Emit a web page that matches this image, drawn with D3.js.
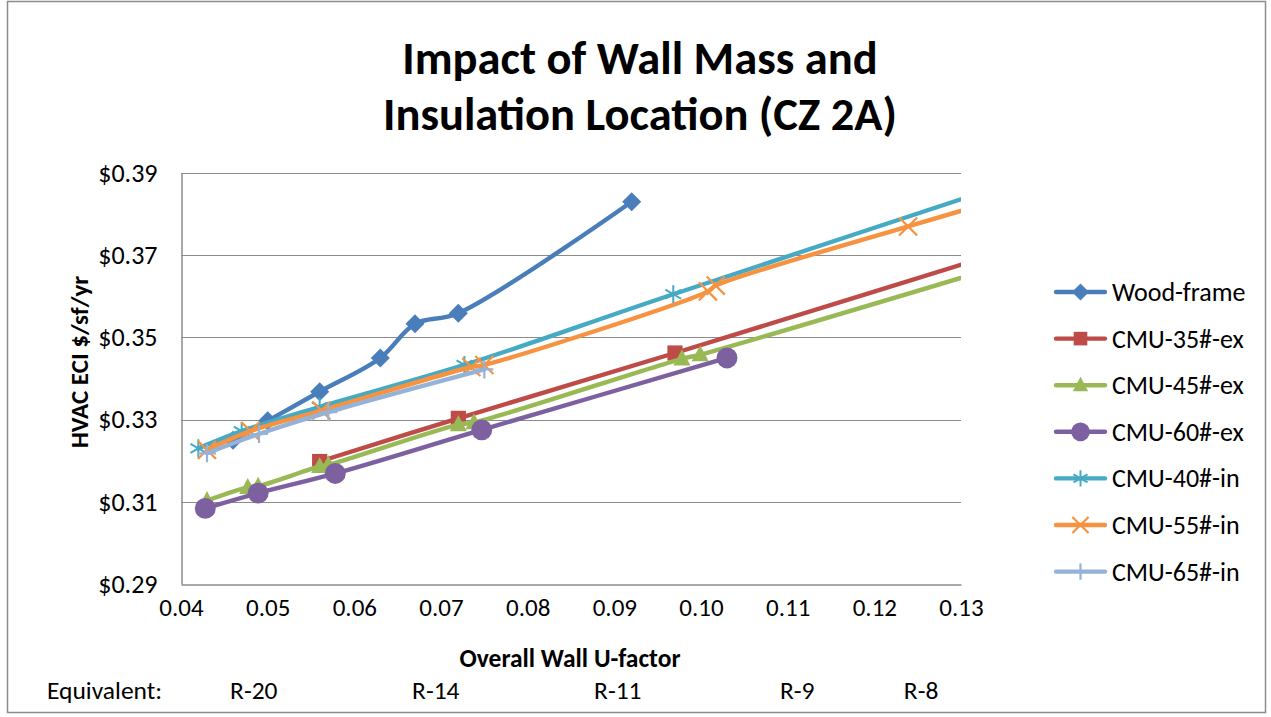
<!DOCTYPE html>
<html><head><meta charset="utf-8">
<script src="https://cdn.jsdelivr.net/npm/d3@7"></script>
<style>
html,body{margin:0;padding:0;background:#fff;}
svg{display:block;font-family:Carlito,Calibri,Lato,sans-serif;}
</style></head>
<body><svg id="c" width="1271" height="717"></svg>
<script>
// ---- data ----
const seriesNames = ["Wood-frame","CMU-35#-ex","CMU-45#-ex","CMU-60#-ex","CMU-40#-in","CMU-55#-in","CMU-65#-in"];
const woodFrame = [[0.046,0.3250],[0.050,0.3297],[0.056,0.3368],[0.063,0.3450],[0.067,0.3533],[0.072,0.3559],[0.092,0.3830]];
const cmu35ex = [[0.056,0.3198],[0.072,0.3303],[0.097,0.3462],[0.145,0.3775]];
const cmu45ex = [[0.043,0.3103],[0.0477,0.3135],[0.0489,0.3138],[0.056,0.3186],[0.057,0.3190],[0.072,0.3288],[0.0738,0.3293],[0.0978,0.3448],[0.0999,0.3458],[0.145,0.3740]];
const cmu60ex = [[0.0428,0.3084],[0.0489,0.3121],[0.0578,0.3169],[0.0747,0.3275],[0.103,0.3450]];
const cmu40in = [[0.042,0.3230],[0.047,0.3272],[0.056,0.3331],[0.0727,0.3433],[0.0968,0.3605],[0.145,0.3940]];
const cmu55in = [[0.043,0.3226],[0.048,0.3272],[0.0562,0.3322],[0.0735,0.3428],[0.075,0.3433],[0.1008,0.3612],[0.1017,0.3626],[0.1239,0.3770],[0.145,0.3900]];
const cmu65in = [[0.043,0.3218],[0.049,0.3265],[0.057,0.3318],[0.075,0.3422]];
const xTicks = [0.04,0.05,0.06,0.07,0.08,0.09,0.10,0.11,0.12,0.13];
const yTicks = [0.29,0.31,0.33,0.35,0.37,0.39];
const rLabels = ["R-20","R-14","R-11","R-9","R-8"];
const rAnchorU = [0.0484,0.0694,0.0904,0.1111,0.1254];
const titleLines = ["Impact of Wall Mass and","Insulation Location (CZ 2A)"];
const colors = ["#4A7EBB","#BE4B48","#98B954","#7D60A0","#46AAC5","#F69240","#95B3D7"];
const markers = ["diamond","square","triangle","circle","asterisk","x","plus"];
const allSeries = [woodFrame,cmu35ex,cmu45ex,cmu60ex,cmu40in,cmu55in,cmu65in];

// ---- layout ----
const svg = d3.select("#c");
const P = {l:181, r:961, t:173, b:584};
const x = d3.scaleLinear().domain([0.04,0.13]).range([P.l,P.r]);
const y = d3.scaleLinear().domain([0.29,0.39]).range([P.b,P.t]);
const FONT = "Carlito,Calibri,Lato,sans-serif";

// outer border
svg.append("rect").attr("x",7.5).attr("y",1.5).attr("width",1258).attr("height",711)
  .attr("fill","none").attr("stroke","#8c8c8c").attr("stroke-width",1.5);

// title
svg.append("g").selectAll("text").data(titleLines).join("text")
  .attr("x",640).attr("y",(d,i)=>74+i*56).attr("text-anchor","middle")
  .attr("font-weight","bold").attr("font-size",46.5).attr("fill","#000").text(d=>d);

// gridlines
svg.append("g").selectAll("line").data(yTicks.slice(1)).join("line")
  .attr("x1",P.l).attr("x2",P.r).attr("y1",d=>Math.round(y(d))+0.5).attr("y2",d=>Math.round(y(d))+0.5)
  .attr("stroke","#8c8c8c").attr("stroke-width",1.2);

// axes
const yAxis = d3.axisLeft(y).tickValues(yTicks).tickFormat(d=>"$"+d.toFixed(2)).tickSize(0).tickPadding(24);
const gy = svg.append("g").attr("transform",`translate(${P.l+0.5},0)`).call(yAxis);
gy.select(".domain").attr("stroke","#8c8c8c").attr("stroke-width",1.5);
gy.selectAll("text").attr("font-size",26).attr("fill","#000").attr("font-family",FONT);

const xAxis = d3.axisBottom(x).tickValues(xTicks).tickFormat(d3.format(".2f")).tickSize(0).tickPadding(14);
const gx = svg.append("g").attr("transform",`translate(0,${P.b+0.5})`).call(xAxis);
gx.select(".domain").attr("stroke","#8c8c8c").attr("stroke-width",1.5);
gx.selectAll("text").attr("font-size",25).attr("fill","#000").attr("font-family",FONT);

// axis titles
svg.append("text").attr("x",570).attr("y",667).attr("text-anchor","middle")
  .attr("font-weight","bold").attr("font-size",25.5).text("Overall Wall U-factor");
svg.append("text").attr("transform","translate(88,362) rotate(-90)").attr("text-anchor","middle")
  .attr("font-weight","bold").attr("font-size",25).text("HVAC ECI $/sf/yr");

// equivalent labels
svg.append("text").attr("x",47).attr("y",699).attr("font-size",25.5).text("Equivalent:");
svg.append("g").selectAll("text").data(rLabels).join("text")
  .attr("x",(d,i)=>x(rAnchorU[i])).attr("y",699).attr("text-anchor","middle")
  .attr("font-size",25.5).text(d=>d);

// clip
svg.append("clipPath").attr("id","clip").append("rect")
  .attr("x",P.l-15).attr("y",P.t-15).attr("width",P.r-P.l+15).attr("height",P.b-P.t+30);

function drawMarker(g, type, color, s){
  if(type==="diamond"){
    g.append("path").attr("d",`M0,${-s}L${s},0L0,${s}L${-s},0Z`).attr("fill",color);
  } else if(type==="square"){
    g.append("rect").attr("x",-s*0.8).attr("y",-s*0.8).attr("width",s*1.6).attr("height",s*1.6).attr("fill",color);
  } else if(type==="triangle"){
    g.append("path").attr("d",`M0,${-s}L${s*0.9},${s*0.7}L${-s*0.9},${s*0.7}Z`).attr("fill",color);
  } else if(type==="circle"){
    g.append("circle").attr("r",s*1.1).attr("fill",color);
  } else if(type==="asterisk"){
    const a=s*0.95;
    g.append("path").attr("d",`M0,${-a}V${a}M${-a*0.87},${-a*0.5}L${a*0.87},${a*0.5}M${-a*0.87},${a*0.5}L${a*0.87},${-a*0.5}`)
      .attr("stroke",color).attr("stroke-width",2).attr("fill","none");
  } else if(type==="x"){
    const a=s*0.95;
    g.append("path").attr("d",`M${-a},${-a}L${a},${a}M${-a},${a}L${a},${-a}`)
      .attr("stroke",color).attr("stroke-width",2.2).attr("fill","none");
  } else if(type==="plus"){
    const a=s*0.95;
    g.append("path").attr("d",`M0,${-a}V${a}M${-a},0H${a}`)
      .attr("stroke",color).attr("stroke-width",2.2).attr("fill","none");
  }
}

const line = d3.line().x(d=>x(d[0])).y(d=>y(d[1])).curve(d3.curveCatmullRom.alpha(0.5));
const plot = svg.append("g").attr("clip-path","url(#clip)");
svg.append("clipPath").attr("id","clipx").append("rect")
  .attr("x",0).attr("y",0).attr("width",P.r).attr("height",717);
allSeries.forEach((data,i)=>{
  const g = plot.append("g").attr("clip-path","url(#clipx)");
  g.append("path").datum(data).attr("d",line).attr("fill","none")
    .attr("stroke",colors[i]).attr("stroke-width",4.4).attr("stroke-linejoin","round").attr("stroke-linecap","round");
  data.filter(d=>d[0]<=0.13).forEach(d=>{
    const m = g.append("g").attr("transform",`translate(${x(d[0])},${y(d[1])})`);
    drawMarker(m, markers[i], colors[i], 9.5);
  });
});

// legend
const lg = svg.append("g");
seriesNames.forEach((n,i)=>{
  const yy = 292 + i*46.6;
  lg.append("line").attr("x1",1056).attr("x2",1105).attr("y1",yy).attr("y2",yy)
    .attr("stroke",colors[i]).attr("stroke-width",4.4).attr("stroke-linecap","round");
  const m = lg.append("g").attr("transform",`translate(1080.5,${yy})`);
  drawMarker(m, markers[i], colors[i], 8.5);
  lg.append("text").attr("x",1112).attr("y",yy+9).attr("font-size",26).attr("fill","#000").text(n);
});
</script></body></html>
